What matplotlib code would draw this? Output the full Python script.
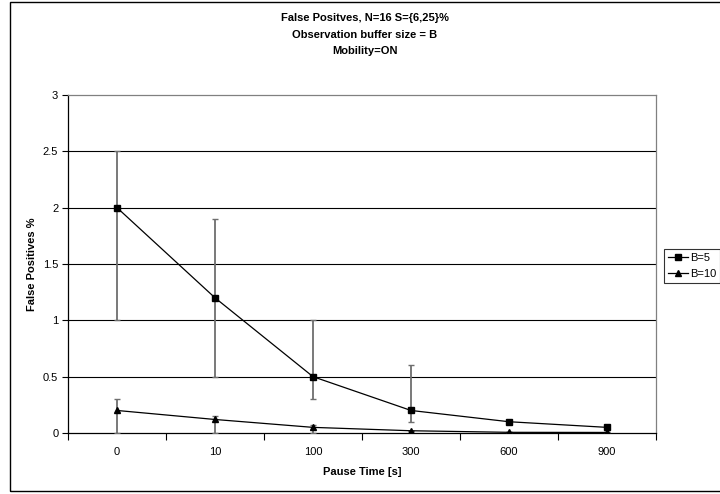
import matplotlib
matplotlib.use("Agg")
import matplotlib.pyplot as plt
from matplotlib.patches import Rectangle
import numpy as np

plt.rcParams['font.family'] = ['Liberation Sans', 'DejaVu Sans']

categories = ["0", "10", "100", "300", "600", "900"]
b5 = [2.0, 1.2, 0.5, 0.2, 0.1, 0.05]
b5_low = [1.0, 0.5, 0.3, 0.1, 0.1, 0.05]
b5_high = [2.5, 1.9, 1.0, 0.6, 0.1, 0.05]
b10 = [0.2, 0.12, 0.05, 0.02, 0.006, 0.005]
b10_low = [0.0, 0.0, 0.0, 0.02, 0.006, 0.005]
b10_high = [0.3, 0.15, 0.075, 0.02, 0.006, 0.005]
yticks = [0, 0.5, 1, 1.5, 2, 2.5, 3]

W, H = 720, 494
fig = plt.figure(figsize=(7.2, 4.94), dpi=100)
ax = fig.add_axes([68 / W, 1 - 433 / H, (656 - 68) / W, (433 - 95) / H])

x = np.arange(len(categories))

def errs(v, lo, hi):
    v = np.array(v); lo = np.array(lo); hi = np.array(hi)
    return np.vstack([v - lo, hi - v])

for vals, lo, hi, mk, lab in [(b5, b5_low, b5_high, 's', 'B=5'),
                               (b10, b10_low, b10_high, '^', 'B=10')]:
    ax.errorbar(x, vals, yerr=errs(vals, lo, hi), fmt='none', ecolor='#6e6e6e',
                elinewidth=1.3, capsize=2.5, capthick=1.0, zorder=3)
    ax.plot(x, vals, color='black', lw=0.9, marker=mk, markersize=5,
            markerfacecolor='black', markeredgecolor='black', label=lab, zorder=4)

ax.set_xlim(-0.5, len(categories) - 0.5)
ax.set_ylim(0, 3)
ax.set_yticks(yticks)
ax.set_yticklabels([f"{t:g}" for t in yticks], fontsize=8)
ax.set_xticks(x)
ax.set_xticklabels(categories, fontsize=8)
ax.tick_params(axis='x', which='major', length=0, pad=10)
ax.set_xticks(np.arange(-0.5, len(categories), 1.0), minor=True)
ax.tick_params(axis='x', which='minor', length=5, width=0.8, direction='out')
ax.tick_params(axis='y', length=4, width=0.8, direction='out', pad=3)

for t in yticks[1:-1]:
    ax.axhline(t, color='black', lw=0.8, zorder=1)

for s in ['left', 'bottom']:
    ax.spines[s].set_color('black')
    ax.spines[s].set_linewidth(0.9)
for s in ['top', 'right']:
    ax.spines[s].set_color('#808080')
    ax.spines[s].set_linewidth(0.9)

ax.set_xlabel("Pause Time [s]", fontsize=8, fontweight='bold', labelpad=7)
ax.set_ylabel("False Positives %", fontsize=8, fontweight='bold', labelpad=4)

fig.text(365 / W, 1 - 18 / H, "False Positves, N=16 S={6,25}%", ha='center', va='center',
         fontsize=8, fontweight='bold')
fig.text(365 / W, 1 - 34.5 / H, "Observation buffer size = B", ha='center', va='center',
         fontsize=8, fontweight='bold')
fig.text(365 / W, 1 - 51 / H, "Mobility=ON", ha='center', va='center',
         fontsize=8, fontweight='bold')

leg = fig.legend(loc='upper left', bbox_to_anchor=(664 / W, 1 - 249 / H), fontsize=8,
                 frameon=True, fancybox=False, handlelength=1.8, handletextpad=0.2,
                 labelspacing=0.55, borderpad=0.35, borderaxespad=0)
leg.get_frame().set_edgecolor('black')
leg.get_frame().set_linewidth(0.8)

fig.patches.append(Rectangle((10 / W, 1 - 491 / H), (740 - 10) / W, (491 - 2.5) / H,
                             transform=fig.transFigure, fill=False, edgecolor='black',
                             linewidth=1.0, clip_on=False))

fig.savefig("out.png", dpi=100)
